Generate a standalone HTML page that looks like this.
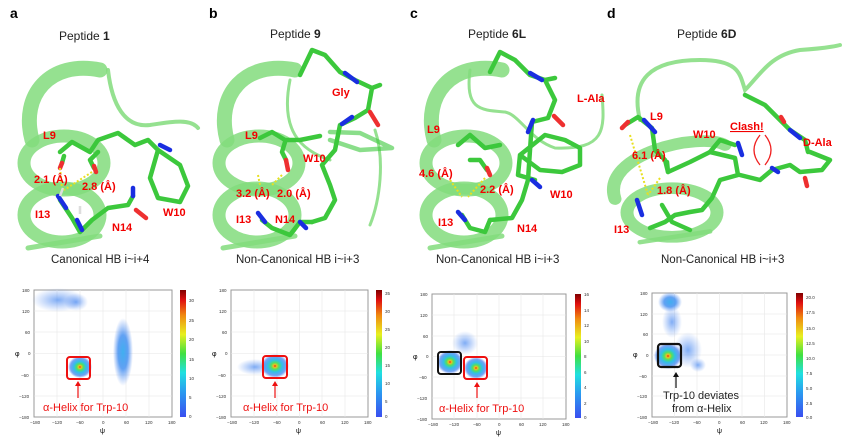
<!DOCTYPE html>
<html><head><meta charset="utf-8"><style>
html,body{margin:0;padding:0;background:#fff;width:865px;height:437px;overflow:hidden}
svg{display:block}
text{font-family:"Liberation Sans",sans-serif}
.lbl{font-size:11px;font-weight:bold;fill:#f20000}
.pl{font-size:12px;fill:#222}
.cap{font-size:11.5px;fill:#222}
.tk{font-size:4.5px;fill:#333}
.hx{fill:none;stroke:#82dc7d;stroke-opacity:.85;stroke-linecap:round}
.st{fill:none;stroke:#3cc83c;stroke-width:4.5;stroke-linecap:round;stroke-linejoin:round}
.n{stroke:#1a2ee0;stroke-width:4.5;stroke-linecap:round}
.o{stroke:#ee3030;stroke-width:4.5;stroke-linecap:round}
.hb{stroke:#e8e020;stroke-width:2;stroke-dasharray:2 2}
.fr{fill:#fff;stroke:#999;stroke-width:1}
.gr{stroke:#e6e6e6;stroke-width:.6}
</style></head><body>
<svg width="865" height="437" viewBox="0 0 865 437" xmlns="http://www.w3.org/2000/svg">
<defs>
<linearGradient id="cb" x1="0" y1="1" x2="0" y2="0">
<stop offset="0" stop-color="#3a4ef0"/><stop offset=".2" stop-color="#2a9cf0"/><stop offset=".35" stop-color="#20e0e0"/><stop offset=".5" stop-color="#40e040"/><stop offset=".65" stop-color="#e8f020"/><stop offset=".8" stop-color="#f08a10"/><stop offset=".92" stop-color="#e01010"/><stop offset="1" stop-color="#800000"/></linearGradient>
<radialGradient id="hot"><stop offset="0" stop-color="#e82010"/><stop offset=".12" stop-color="#f0c020"/><stop offset=".28" stop-color="#50e060"/><stop offset=".5" stop-color="#30c0e8"/><stop offset=".8" stop-color="#3a7ef0" stop-opacity=".7"/><stop offset="1" stop-color="#3a6ef0" stop-opacity="0"/></radialGradient>
<radialGradient id="cool"><stop offset="0" stop-color="#3a80f0" stop-opacity=".65"/><stop offset="1" stop-color="#5a8ef0" stop-opacity="0"/></radialGradient>
<radialGradient id="warm"><stop offset="0" stop-color="#40b0f0"/><stop offset=".5" stop-color="#3a8af0" stop-opacity=".8"/><stop offset="1" stop-color="#5a8ef0" stop-opacity="0"/></radialGradient>
<g id="helix">
<path class="hx" stroke-width="15" d="M32,140 C20,95 50,60 100,70"/>
<ellipse class="hx" stroke-width="13" cx="64" cy="163" rx="40" ry="27"/>
<ellipse class="hx" stroke-width="13" cx="62" cy="215" rx="38" ry="27"/>
<path class="hx" stroke-width="5" d="M28,248 L100,236"/>
</g>
</defs>

<text x="10" y="18" style="font-size:14px;font-weight:bold">a</text>
<text x="209" y="18" style="font-size:14px;font-weight:bold">b</text>
<text x="410" y="18" style="font-size:14px;font-weight:bold">c</text>
<text x="607" y="18" style="font-size:14px;font-weight:bold">d</text>
<text class="pl" x="59" y="40">Peptide <tspan font-weight="bold">1</tspan></text>
<text class="pl" x="270" y="38">Peptide <tspan font-weight="bold">9</tspan></text>
<text class="pl" x="468" y="38">Peptide <tspan font-weight="bold">6L</tspan></text>
<text class="pl" x="677" y="38">Peptide <tspan font-weight="bold">6D</tspan></text>
<text class="cap" x="51" y="263">Canonical HB i~i+4</text>
<text class="cap" x="236" y="263">Non-Canonical HB i~i+3</text>
<text class="cap" x="436" y="263">Non-Canonical HB i~i+3</text>
<text class="cap" x="661" y="263">Non-Canonical HB i~i+3</text>

<!-- panel a -->
<use href="#helix"/>
<path class="hx" stroke-width="4" d="M108,70 C112,105 125,128 150,125 C170,122 190,118 198,128"/>
<path class="st" d="M60,152 L72,142 L90,152 L98,140 L118,133 L135,145 L148,140 L158,150 L150,178 L158,198 L180,202 L188,186 L180,165 L158,150"/>
<path class="st" d="M98,152 L90,160 L94,168"/>
<path class="st" d="M64,156 L62,163"/>
<line class="o" x1="62" y1="163" x2="60" y2="168"/><line class="o" x1="94" y1="166" x2="96" y2="172"/>
<line class="n" x1="160" y1="145" x2="170" y2="150"/>
<path class="st" d="M60,200 L72,218 L80,232 L92,220 L108,208 L128,205 L133,196"/>
<line class="n" x1="58" y1="196" x2="66" y2="208"/><line class="n" x1="77" y1="220" x2="82" y2="230"/><line class="n" x1="133" y1="196" x2="133" y2="188"/>
<line class="o" x1="136" y1="210" x2="146" y2="218"/>
<line x1="60" y1="196" x2="63" y2="188" stroke="#ddd" stroke-width="2.5"/><line x1="80" y1="214" x2="80" y2="206" stroke="#ddd" stroke-width="2.5"/>
<line class="hb" x1="60" y1="168" x2="62" y2="188"/><line class="hb" x1="92" y1="172" x2="64" y2="190"/>
<text class="lbl" x="43" y="139">L9</text>
<text class="lbl" x="34" y="183">2.1 (Å)</text>
<text class="lbl" x="82" y="190">2.8 (Å)</text>
<text class="lbl" x="35" y="218">I13</text>
<text class="lbl" x="112" y="231">N14</text>
<text class="lbl" x="163" y="216">W10</text>

<!-- panel b -->
<g transform="translate(195,0)"><use href="#helix"/></g>
<path class="hx" stroke-width="3" stroke-opacity=".45" d="M290,80 C280,130 300,150 330,160 M375,130 C385,160 380,200 370,225"/>
<path class="st" d="M300,75 L312,50 L325,55 L340,72 L355,80 L372,88 L380,85"/>
<line class="n" x1="345" y1="73" x2="357" y2="82"/>
<path class="st" d="M372,88 L368,110 L355,118 L340,125 L335,150 L322,165 L330,185 L335,200 L325,218 L312,222"/>
<line class="o" x1="370" y1="112" x2="378" y2="125"/><line class="n" x1="352" y1="117" x2="342" y2="124"/>
<path class="st" stroke-opacity=".6" d="M330,132 L360,133 L392,148 L360,150 L330,140"/>
<path class="st" d="M260,138 L272,132 L285,140 L300,140 L320,136 M285,142 L282,152 L286,160"/>
<line class="o" x1="286" y1="160" x2="288" y2="170"/>
<path class="st" d="M262,220 L272,228 L290,235 L300,222 L312,222"/>
<line class="n" x1="258" y1="213" x2="265" y2="222"/><line class="n" x1="300" y1="222" x2="306" y2="228"/>
<line class="hb" x1="258" y1="175" x2="260" y2="185"/><line class="hb" x1="282" y1="175" x2="272" y2="185"/>
<text class="lbl" x="245" y="139">L9</text>
<text class="lbl" x="303" y="162">W10</text>
<text class="lbl" x="332" y="96">Gly</text>
<text class="lbl" x="236" y="197">3.2 (Å)</text>
<text class="lbl" x="277" y="197">2.0 (Å)</text>
<text class="lbl" x="236" y="223">I13</text>
<text class="lbl" x="275" y="223">N14</text>

<!-- panel c -->
<g transform="translate(402,0)"><use href="#helix"/></g>
<path class="hx" stroke-width="3" stroke-opacity=".5" d="M470,70 C465,110 480,110 505,112 C520,115 530,140 555,148 C605,150 605,130 602,95"/>
<path class="st" d="M490,72 L500,52 L515,60 L530,75 L545,80 L555,78 M545,80 L555,100 L548,118 L532,122 L530,150 L528,180 L522,200 L512,218 L490,220"/>
<line class="n" x1="530" y1="73" x2="542" y2="80"/><line class="o" x1="554" y1="116" x2="563" y2="125"/><line class="n" x1="533" y1="120" x2="528" y2="132"/>
<path class="st" d="M520,155 L545,135 L565,140 L580,148 L580,165 L562,172 L540,170 L520,155 L518,175 L535,180"/>
<line class="n" x1="532" y1="180" x2="540" y2="187"/>
<path class="st" d="M458,145 L470,135 L485,148 L500,145 M470,160 L480,160 L487,170"/>
<line class="o" x1="487" y1="168" x2="490" y2="175"/>
<path class="st" d="M462,215 L470,228 L485,232 L490,220"/>
<line class="n" x1="458" y1="212" x2="465" y2="220"/>
<line class="hb" x1="450" y1="180" x2="462" y2="197"/><line class="hb" x1="485" y1="178" x2="468" y2="197"/>
<text class="lbl" x="427" y="133">L9</text>
<text class="lbl" x="419" y="177">4.6 (Å)</text>
<text class="lbl" x="480" y="193">2.2 (Å)</text>
<text class="lbl" x="438" y="226">I13</text>
<text class="lbl" x="517" y="232">N14</text>
<text class="lbl" x="550" y="198">W10</text>
<text class="lbl" x="577" y="102">L-Ala</text>

<!-- panel d -->
<g transform="translate(610,10) scale(1,.9)">
<path class="hx" stroke-width="13" d="M5,210 C-10,160 90,135 115,150"/>
<ellipse class="hx" stroke-width="13" cx="62" cy="225" rx="45" ry="27"/>
<path class="hx" stroke-width="5" d="M30,258 L100,246"/>
</g>
<path class="hx" stroke-width="4" d="M640,120 C630,80 650,60 700,60 C740,60 740,75 745,90 C760,75 770,55 800,50 C830,48 840,45 840,45"/>
<path class="st" d="M625,125 L638,117 L652,128 L655,150 L665,160 L668,172 L690,162 L710,152 L735,158 L738,175 L720,180 L712,198 L702,210 L690,212 L675,215 L665,222 L650,228"/>
<line class="n" x1="644" y1="120" x2="655" y2="132"/><line class="o" x1="628" y1="122" x2="622" y2="128"/>
<path class="st" d="M710,152 L720,140 L735,145 M740,175 L760,180 L772,170 L790,165 L800,172 L822,170 L830,160 L810,152"/>
<line class="n" x1="738" y1="143" x2="742" y2="155"/>
<path class="st" d="M745,95 L765,105 L780,120 L790,130 L805,140 L808,152"/>
<line class="o" x1="781" y1="117" x2="784" y2="122"/><line class="n" x1="790" y1="130" x2="800" y2="138"/><line class="n" x1="772" y1="168" x2="778" y2="172"/><line class="o" x1="805" y1="178" x2="807" y2="186"/>
<path class="st" d="M662,205 L672,222 L690,230 M667,162 L668,172"/>
<line class="n" x1="637" y1="200" x2="642" y2="215"/>
<line class="hb" x1="630" y1="135" x2="648" y2="195"/><line class="hb" x1="660" y1="178" x2="648" y2="195"/>
<text class="lbl" x="650" y="120">L9</text>
<text class="lbl" x="632" y="159">6.1 (Å)</text>
<text class="lbl" x="657" y="194">1.8 (Å)</text>
<text class="lbl" x="693" y="138">W10</text>
<text class="lbl" x="730" y="130" text-decoration="underline">Clash!</text>
<path d="M760,135 C752,145 752,155 760,165 M765,135 C773,145 773,155 765,165" stroke="#f02020" stroke-width="1.3" fill="none"/>
<text class="lbl" x="803" y="146">D-Ala</text>
<text class="lbl" x="614" y="233">I13</text>

<!-- Plot a -->
<g>
<rect class="fr" x="34" y="290" width="138" height="127"/>
<path class="gr" d="M57,290V417M80,290V417M103,290V417M126,290V417M149,290V417M34,311H172M34,332H172M34,353.5H172M34,375H172M34,396H172"/>
<ellipse cx="58" cy="300" rx="26" ry="12" fill="url(#cool)"/>
<ellipse cx="76" cy="302" rx="12" ry="9" fill="url(#cool)"/>
<ellipse cx="123" cy="352" rx="10" ry="34" fill="url(#warm)"/>
<ellipse cx="80" cy="367" rx="12" ry="11" fill="url(#hot)"/>
<rect x="67" y="357" width="23" height="22" rx="3" fill="none" stroke="#ee1010" stroke-width="2"/>
<rect x="180" y="290" width="6" height="127" fill="url(#cb)"/>
<line x1="78" y1="398" x2="78" y2="384" stroke="#ee1010" stroke-width="1.2"/><path d="M75,386 L78,381 L81,386Z" fill="#ee1010"/>
<text x="43" y="411" style="font-size:11px;fill:#ee1010">α-Helix for Trp-10</text>
<text class="tk" x="22" y="292">180</text><text class="tk" x="22" y="313">120</text><text class="tk" x="25" y="334">60</text><text class="tk" x="28" y="355">0</text><text class="tk" x="21" y="377">−60</text><text class="tk" x="19" y="398">−120</text><text class="tk" x="19" y="419">−180</text>
<text class="tk" x="30" y="424">−180</text><text class="tk" x="52" y="424">−120</text><text class="tk" x="76" y="424">−60</text><text class="tk" x="102" y="424">0</text><text class="tk" x="124" y="424">60</text><text class="tk" x="145" y="424">120</text><text class="tk" x="168" y="424">180</text>
<text x="100" y="433" style="font-size:7px">ψ</text><text x="15" y="356" style="font-size:7px">φ</text>
<text class="tk" x="189" y="302">30</text><text class="tk" x="189" y="322">25</text><text class="tk" x="189" y="341">20</text><text class="tk" x="189" y="361">15</text><text class="tk" x="189" y="380">10</text><text class="tk" x="189" y="399">5</text><text class="tk" x="189" y="418">0</text>
</g>

<!-- Plot b -->
<g>
<rect class="fr" x="231" y="290" width="137" height="127"/>
<path class="gr" d="M254,290V417M277,290V417M299.5,290V417M322,290V417M345,290V417M231,311H368M231,332H368M231,353.5H368M231,375H368M231,396H368"/>
<ellipse cx="255" cy="367" rx="18" ry="8" fill="url(#cool)"/>
<ellipse cx="275" cy="366" rx="14" ry="12" fill="url(#hot)"/>
<rect x="263" y="356" width="24" height="22" rx="3" fill="none" stroke="#ee1010" stroke-width="2"/>
<rect x="376" y="290" width="6" height="127" fill="url(#cb)"/>
<line x1="275" y1="398" x2="275" y2="384" stroke="#ee1010" stroke-width="1.2"/><path d="M272,386 L275,381 L278,386Z" fill="#ee1010"/>
<text x="243" y="411" style="font-size:11px;fill:#ee1010">α-Helix for Trp-10</text>
<text class="tk" x="219" y="292">180</text><text class="tk" x="219" y="313">120</text><text class="tk" x="222" y="334">60</text><text class="tk" x="225" y="355">0</text><text class="tk" x="218" y="377">−60</text><text class="tk" x="216" y="398">−120</text><text class="tk" x="216" y="419">−180</text>
<text class="tk" x="227" y="424">−180</text><text class="tk" x="249" y="424">−120</text><text class="tk" x="273" y="424">−60</text><text class="tk" x="298" y="424">0</text><text class="tk" x="320" y="424">60</text><text class="tk" x="341" y="424">120</text><text class="tk" x="364" y="424">180</text>
<text x="296" y="433" style="font-size:7px">ψ</text><text x="212" y="356" style="font-size:7px">φ</text>
<text class="tk" x="385" y="295">35</text><text class="tk" x="385" y="313">30</text><text class="tk" x="385" y="331">25</text><text class="tk" x="385" y="349">20</text><text class="tk" x="385" y="367">15</text><text class="tk" x="385" y="385">10</text><text class="tk" x="385" y="403">5</text><text class="tk" x="385" y="418">0</text>
</g>

<!-- Plot c -->
<g>
<rect class="fr" x="432" y="294" width="134" height="125"/>
<path class="gr" d="M454,294V419M477,294V419M499,294V419M521,294V419M543,294V419M432,315H566M432,336H566M432,356.5H566M432,377H566M432,398H566"/>
<ellipse cx="465" cy="343" rx="13" ry="12" fill="url(#cool)"/>
<ellipse cx="450" cy="362" rx="13" ry="12" fill="url(#hot)"/>
<ellipse cx="476" cy="368" rx="12" ry="11" fill="url(#hot)"/>
<rect x="438" y="352" width="23" height="22" rx="3" fill="none" stroke="#111" stroke-width="2"/>
<rect x="464" y="357" width="23" height="22" rx="3" fill="none" stroke="#ee1010" stroke-width="2"/>
<rect x="575" y="294" width="6" height="124" fill="url(#cb)"/>
<line x1="477" y1="398" x2="477" y2="385" stroke="#ee1010" stroke-width="1.2"/><path d="M474,387 L477,382 L480,387Z" fill="#ee1010"/>
<text x="439" y="412" style="font-size:11px;fill:#ee1010">α-Helix for Trp-10</text>
<text class="tk" x="420" y="296">180</text><text class="tk" x="420" y="317">120</text><text class="tk" x="423" y="338">60</text><text class="tk" x="426" y="358">0</text><text class="tk" x="419" y="379">−60</text><text class="tk" x="417" y="400">−120</text><text class="tk" x="417" y="421">−180</text>
<text class="tk" x="428" y="426">−180</text><text class="tk" x="449" y="426">−120</text><text class="tk" x="473" y="426">−60</text><text class="tk" x="498" y="426">0</text><text class="tk" x="519" y="426">60</text><text class="tk" x="539" y="426">120</text><text class="tk" x="562" y="426">180</text>
<text x="496" y="435" style="font-size:7px">ψ</text><text x="413" y="359" style="font-size:7px">φ</text>
<text class="tk" x="584" y="296">16</text><text class="tk" x="584" y="312">14</text><text class="tk" x="584" y="327">12</text><text class="tk" x="584" y="343">10</text><text class="tk" x="584" y="358">8</text><text class="tk" x="584" y="374">6</text><text class="tk" x="584" y="389">4</text><text class="tk" x="584" y="405">2</text><text class="tk" x="584" y="419">0</text>
</g>

<!-- Plot d -->
<g>
<rect class="fr" x="652" y="293" width="135" height="124"/>
<path class="gr" d="M674.5,293V417M697,293V417M719.5,293V417M742,293V417M764.5,293V417M652,314H787M652,334H787M652,355H787M652,376H787M652,396H787"/>
<ellipse cx="670" cy="302" rx="12" ry="10" fill="url(#warm)"/>
<ellipse cx="672" cy="322" rx="10" ry="16" fill="url(#cool)"/>
<ellipse cx="688" cy="350" rx="14" ry="18" fill="url(#cool)"/>
<ellipse cx="698" cy="365" rx="8" ry="7" fill="url(#cool)"/>
<ellipse cx="668" cy="356" rx="14" ry="13" fill="url(#hot)"/>
<rect x="658" y="344" width="23" height="23" rx="3" fill="none" stroke="#111" stroke-width="2.2"/>
<rect x="796" y="293" width="7" height="124" fill="url(#cb)"/>
<line x1="676" y1="388" x2="676" y2="375" stroke="#111" stroke-width="1.2"/><path d="M673,377 L676,372 L679,377Z" fill="#111"/>
<text x="663" y="399" style="font-size:11px;fill:#222">Trp-10 deviates</text>
<text x="672" y="412" style="font-size:11px;fill:#222">from α-Helix</text>
<text class="tk" x="640" y="295">180</text><text class="tk" x="640" y="316">120</text><text class="tk" x="643" y="336">60</text><text class="tk" x="646" y="357">0</text><text class="tk" x="639" y="378">−60</text><text class="tk" x="637" y="398">−120</text><text class="tk" x="637" y="419">−180</text>
<text class="tk" x="648" y="424">−180</text><text class="tk" x="669" y="424">−120</text><text class="tk" x="693" y="424">−60</text><text class="tk" x="718" y="424">0</text><text class="tk" x="740" y="424">60</text><text class="tk" x="760" y="424">120</text><text class="tk" x="783" y="424">180</text>
<text x="717" y="433" style="font-size:7px">ψ</text><text x="633" y="357" style="font-size:7px">φ</text>
<text class="tk" x="806" y="299">20.0</text><text class="tk" x="806" y="314">17.5</text><text class="tk" x="806" y="330">15.0</text><text class="tk" x="806" y="345">12.5</text><text class="tk" x="806" y="360">10.0</text><text class="tk" x="806" y="375">7.5</text><text class="tk" x="806" y="390">5.0</text><text class="tk" x="806" y="405">2.5</text><text class="tk" x="806" y="419">0.0</text>
</g>
</svg>
</body></html>
